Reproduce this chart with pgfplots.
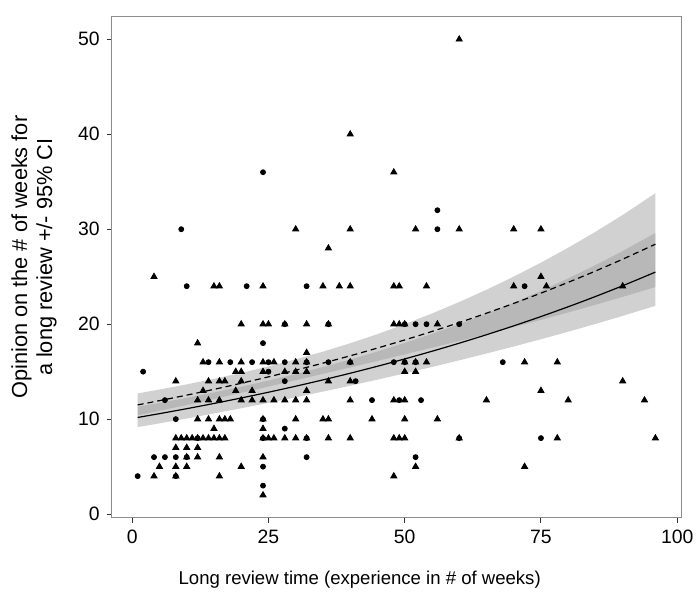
\documentclass[border=0pt]{standalone}
\usepackage{fontspec}
\setmainfont{Liberation Sans}
\usepackage{pgfplots}
\usepackage{pgfplotstable}
\pgfplotsset{compat=1.18}

\pgfplotstableread{
x y
9 30
24 36
56 32
56 30
10 24
21 24
32 24
72 24
28 20
36 20
50 20
52 20
54 20
60 20
24 18
14 16
18 16
22 16
25 16
28 16
32 16
36 16
40 16
48 16
50 16
52 16
68 16
2 15
25 15
28 14
41 14
6 12
44 12
49 12
53 12
8 10
24 10
28 9
12 8
24 8
32 8
60 8
75 8
4 6
6 6
8 6
10 6
32 6
52 6
24 5
1 4
8 4
24 3
}\circles

\pgfplotstableread{
x y
60 50
40 40
48 36
36 28
30 30
40 30
52 30
60 30
70 30
75 30
4 25
75 25
15 24
16 24
24 24
35 24
38 24
40 24
48 24
49 24
54 24
70 24
76 24
90 24
20 20
24 20
25 20
28 20
32 20
36 20
48 20
49 20
50 20
56 20
12 18
32 17
13 16
16 16
20 16
24 16
26 16
30 16
32 16
40 16
50 16
52 16
54 16
72 16
78 16
19 15
20 15
24 15
28 15
30 15
32 15
50 15
52 15
8 14
14 14
16 14
17 14
20 14
36 14
40 14
90 14
13 13
19 13
22 13
32 13
75 13
12 12
14 12
16 12
20 12
22 12
24 12
26 12
28 12
30 12
32 12
40 12
48 12
50 12
65 12
80 12
94 12
12 10
14 10
16 10
17 10
18 10
24 10
30 10
35 10
36 10
44 10
50 10
56 10
15 9
24 9
8 8
9 8
10 8
11 8
12 8
13 8
14 8
15 8
16 8
17 8
24 8
25 8
26 8
28 8
30 8
32 8
36 8
40 8
48 8
49 8
50 8
60 8
78 8
96 8
8 7
10 7
12 7
10 6
12 6
16 6
24 6
5 5
8 5
10 5
20 5
52 5
72 5
4 4
8 4
16 4
48 4
24 2
}\triangles

\pgfplotstableread{
x fit
1 10.178
5 10.579
10 11.102
15 11.652
20 12.229
25 12.834
30 13.469
35 14.135
40 14.835
45 15.569
50 16.340
55 17.148
60 17.997
65 18.888
70 19.823
75 20.804
80 21.833
85 22.914
90 24.048
96 25.483
}\solidfit

\pgfplotstableread{
x fit
1 11.499
5 11.946
10 12.528
15 13.139
20 13.780
25 14.453
30 15.158
35 15.897
40 16.672
45 17.486
50 18.339
55 19.233
60 20.172
65 21.156
70 22.187
75 23.270
80 24.405
85 25.595
90 26.844
96 28.423
}\dashedfit

\begin{document}
\begin{tikzpicture}
\begin{axis}[
  at={(56pt,40.5pt)}, anchor=south west,
  scale only axis, width=285.35pt, height=251.25pt,
  xmin=-3.75, xmax=100.75, ymin=-0.4, ymax=52.4,
  xtick={0,25,50,75,100}, ytick={0,10,20,30,40,50},
  tick align=outside, tick pos=left,
  major tick length=2.5pt,
  every tick/.style={black!80, line width=0.5pt},
  axis line style={black!45, line width=0.5pt},
  tick label style={font=\fontsize{9.7}{11}\selectfont, text=black},
  /pgf/number format/assume math mode=true,
  xlabel={Long review time (experience in \# of weeks)},
  ylabel={Opinion on the \# of weeks for\\a long review +/- 95\% CI},
  xlabel style={font=\fontsize{9.3}{11}\selectfont, at={(axis description cs:0.4354,-0.1224)}, anchor=center},
  ylabel style={font=\fontsize{10.9}{12.5}\selectfont, align=center, at={(axis description cs:-0.1367,0.52)}, anchor=center},
]
% 95% CI band of the solid fit (upper edge, then lower edge reversed)
\addplot[fill=black!40, fill opacity=0.45, draw=none] coordinates {
(1,11.305) (5,11.710) (10,12.244) (15,12.811) (20,13.418) (25,14.062) (30,14.753)
(35,15.488) (40,16.277) (45,17.118) (50,18.021) (55,18.981) (60,20.007) (65,21.102)
(70,22.265) (75,23.504) (80,24.820) (85,26.218) (90,27.703) (96,29.606)
(96,21.933) (90,20.876) (85,20.027) (80,19.207) (75,18.414) (70,17.648) (65,16.907)
(60,16.188) (55,15.491) (50,14.815) (45,14.160) (40,13.521) (35,12.901) (30,12.297)
(25,11.714) (20,11.146) (15,10.597) (10,10.066) (5,9.557) (1,9.163)
} -- cycle;
% 95% CI band of the dashed fit
\addplot[fill=black!40, fill opacity=0.45, draw=none] coordinates {
(1,12.709) (5,13.119) (10,13.662) (15,14.243) (20,14.871) (25,15.554) (30,16.296)
(35,17.108) (40,17.992) (45,18.955) (50,19.999) (55,21.122) (60,22.332) (65,23.623)
(70,25.005) (75,26.479) (80,28.051) (85,29.724) (90,31.501) (96,33.786)
(96,23.909) (90,22.874) (85,22.040) (80,21.235) (75,20.450) (70,19.687) (65,18.947)
(60,18.221) (55,17.514) (50,16.817) (45,16.131) (40,15.448) (35,14.772) (30,14.100)
(25,13.430) (20,12.769) (15,12.121) (10,11.488) (5,10.878) (1,10.404)
} -- cycle;
\addplot[black, line width=0.6pt, smooth] table[x=x, y=fit] {\solidfit};
\addplot[black, line width=0.6pt, smooth, dash pattern=on 3pt off 2pt] table[x=x, y=fit] {\dashedfit};
\addplot[only marks, mark=*, mark size=1.25pt, black] table {\circles};
\addplot[only marks, mark=triangle*, mark size=1.75pt, black] table {\triangles};
\end{axis}
\path (0,0) rectangle (350pt,300pt);
\end{tikzpicture}
\end{document}
